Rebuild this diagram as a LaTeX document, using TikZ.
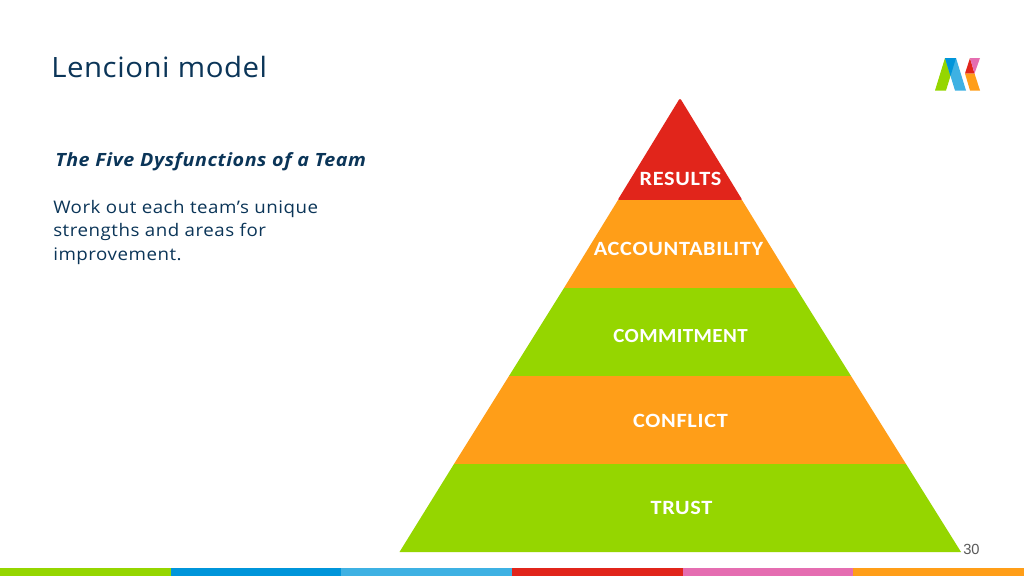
\documentclass[tikz,border=0pt]{standalone}
\usepackage{fontspec}
\setmainfont[FakeStretch=1.08,LetterSpace=3.0]{Open Sans}
\newfontfamily\titlefont[FakeStretch=1.05,LetterSpace=2.0]{Open Sans}
\newfontfamily\labelfont[FakeStretch=1.1,LetterSpace=3.5]{Carlito}
\newfontfamily\narrowlabelfont[FakeStretch=1.05,LetterSpace=2.0]{Carlito}
\newfontfamily\numfont{Liberation Sans}
\definecolor{navy}{HTML}{0B3558}
\definecolor{pgreen}{HTML}{95D600}
\definecolor{porange}{HTML}{FF9E18}
\definecolor{pred}{HTML}{E1251B}
\definecolor{bblue}{HTML}{0095DA}
\definecolor{lblue}{HTML}{3EB1E3}
\definecolor{bpink}{HTML}{E56DB1}
\definecolor{numgray}{HTML}{595959}
\tikzset{
  px/.style={x=0.75pt,y=-0.75pt},
  bandlabel/.style={text=white,font=\labelfont\bfseries\fontsize{15.2}{18}\selectfont,inner sep=0pt,anchor=center},
  bodytext/.style={text=navy,inner sep=0pt,anchor=base west,font=\fontsize{13}{17.6}\selectfont},
}
\begin{document}
\begin{tikzpicture}[px]
\useasboundingbox (0,0) rectangle (1024,576);
\fill[white] (0,0) rectangle (1024,576);
% bottom bar
\fill[pgreen] (0,568) rectangle (171,576);
\fill[bblue] (171,568) rectangle (341,576);
\fill[lblue] (341,568) rectangle (512,576);
\fill[pred] (512,568) rectangle (683,576);
\fill[bpink] (683,568) rectangle (853,576);
\fill[porange] (853,568) rectangle (1024,576);
% pyramid
\fill[pred,rounded corners=1.5pt] (680,98) -- (742.6,200.5) -- (617.4,200.5) -- cycle;
\fill[porange] (618,200) -- (742,200) -- (796,288) -- (564,288) -- cycle;
\fill[pgreen] (564,288) -- (796,288) -- (851,376) -- (509,376) -- cycle;
\fill[porange] (509,376) -- (851,376) -- (906,464) -- (454,464) -- cycle;
\fill[pgreen] (454,464) -- (906,464) -- (961,552) -- (399.5,552) -- cycle;
\node[bandlabel] (results) at (680.5,179) {RESULTS};
\node[bandlabel] (accountability) at (678.5,249) {ACCOUNTABILITY};
\node[bandlabel,font=\narrowlabelfont\bfseries\fontsize{15}{18}\selectfont] (commitment) at (680.5,336) {COMMITMENT};
\node[bandlabel] (conflict) at (680.5,420.5) {CONFLICT};
\node[bandlabel] (trust) at (681.5,508) {TRUST};
% texts
\node[text=navy,inner sep=0pt,anchor=base west,font=\titlefont\fontsize{21}{24}\selectfont] (title) at (51,77) {Lencioni model};
\node[bodytext,font=\bfseries\itshape\fontsize{13.7}{16}\selectfont] (sub) at (55,166) {The Five Dysfunctions of a Team};
\node[bodytext] (l1) at (53,213) {Work out each team’s unique};
\node[bodytext] (l2) at (53,236.5) {strengths and areas for};
\node[bodytext] (l3) at (53,260) {improvement.};
\node[text=numgray,inner sep=0pt,anchor=base west,font=\numfont\fontsize{11}{12}\selectfont] (num) at (963,554) {30};
% logo
\fill[pgreen] (935,90.5) -- (945,58) -- (956,58) -- (946,90.5) -- cycle;
\fill[lblue] (945,58) -- (956,58) -- (966,90.5) -- (955,90.5) -- cycle;
\fill[bblue] (945,58) -- (956,58) -- (950.5,76) -- cycle;
\fill[pred] (965,73.5) -- (970,58) -- (974.5,73.5) -- cycle;
\fill[bpink] (970,58) -- (980,58) -- (974.5,73.5) -- cycle;
\fill[porange] (965,73.5) -- (974.5,73.5) -- (980,90.5) -- (970,90.5) -- cycle;
\end{tikzpicture}
\end{document}
